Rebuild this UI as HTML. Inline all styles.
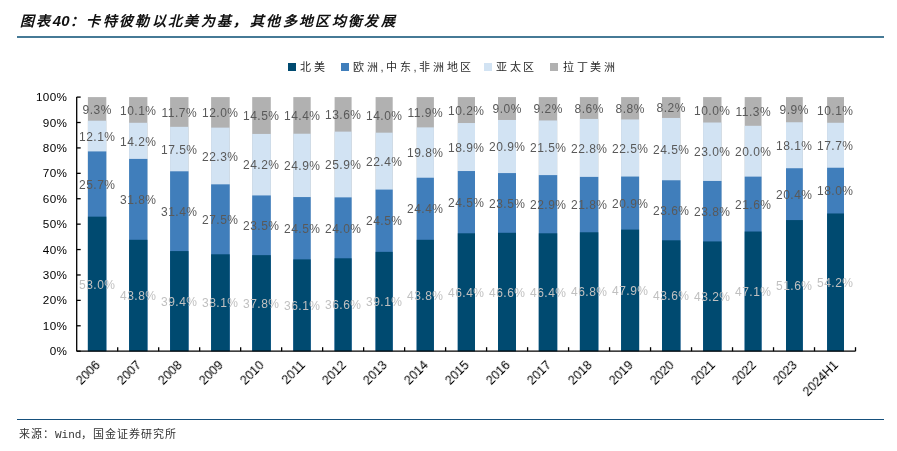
<!DOCTYPE html>
<html lang="zh-CN"><head><meta charset="utf-8"><style>
html,body{margin:0;padding:0;background:#fff;}
body{width:897px;height:451px;position:relative;overflow:hidden;font-family:"Liberation Sans",sans-serif;}
.title{position:absolute;left:20px;top:12px;font-size:14px;line-height:18px;font-weight:bold;font-style:italic;color:#111;white-space:nowrap;letter-spacing:2.35px;}
.tline{position:absolute;left:17px;top:36px;width:867px;height:2px;background:#467a96;}
.fline{position:absolute;left:17px;top:419px;width:867px;height:1.3px;background:#16507c;}
.foot{position:absolute;left:19px;top:427px;font-size:11px;line-height:14px;color:#333;white-space:nowrap;letter-spacing:1px;}
.mono{font-family:"Liberation Mono",monospace;letter-spacing:0;}
.leg{position:absolute;top:60px;font-size:11px;line-height:14px;color:#2a2a2a;white-space:nowrap;letter-spacing:2.7px;}
.sq{position:absolute;top:63px;width:8px;height:8px;}
.dl{position:absolute;width:60px;text-align:center;font-size:12px;line-height:14px;white-space:nowrap;letter-spacing:0.5px;text-indent:0.5px;}
.yl{position:absolute;left:0;width:67.4px;text-align:right;letter-spacing:0.4px;font-size:11.7px;line-height:14px;color:#000;}
.xl{position:absolute;width:80px;text-align:right;font-size:12.5px;line-height:14px;color:#000;transform-origin:100% 50%;transform:rotate(-45deg);}
svg{position:absolute;left:0;top:0;}
div{will-change:transform;}
</style></head><body>
<div class="title">图表<span style="font-size:15px;letter-spacing:0.3px">40</span>：卡特彼勒以北美为基，其他多地区均衡发展</div>
<div class="tline"></div>
<div class="sq" style="left:288px;background:#004a70"></div><div class="leg" style="left:299.5px">北美</div>
<div class="sq" style="left:341px;background:#407ebb"></div><div class="leg" style="left:352.5px">欧洲,中东,非洲地区</div>
<div class="sq" style="left:483.5px;background:#d2e3f3"></div><div class="leg" style="left:495.5px">亚太区</div>
<div class="sq" style="left:550.3px;background:#b1b1b1"></div><div class="leg" style="left:562.5px">拉丁美洲</div>
<svg width="897" height="451" viewBox="0 0 897 451">
<rect x="87.90" y="97.10" width="18.40" height="254.10" fill="#b1b1b1"/><rect x="87.90" y="120.71" width="18.40" height="230.49" fill="#d2e3f3"/><rect x="87.90" y="151.42" width="18.40" height="199.78" fill="#407ebb"/><rect x="87.90" y="216.66" width="18.40" height="134.54" fill="#004a70"/><rect x="129.10" y="97.10" width="18.30" height="254.10" fill="#b1b1b1"/><rect x="129.10" y="122.79" width="18.30" height="228.41" fill="#d2e3f3"/><rect x="129.10" y="158.91" width="18.30" height="192.29" fill="#407ebb"/><rect x="129.10" y="239.79" width="18.30" height="111.41" fill="#004a70"/><rect x="170.10" y="97.10" width="18.40" height="254.10" fill="#b1b1b1"/><rect x="170.10" y="126.83" width="18.40" height="224.37" fill="#d2e3f3"/><rect x="170.10" y="171.30" width="18.40" height="179.90" fill="#407ebb"/><rect x="170.10" y="251.08" width="18.40" height="100.12" fill="#004a70"/><rect x="211.10" y="97.10" width="18.60" height="254.10" fill="#b1b1b1"/><rect x="211.10" y="127.62" width="18.60" height="223.58" fill="#d2e3f3"/><rect x="211.10" y="184.34" width="18.60" height="166.86" fill="#407ebb"/><rect x="211.10" y="254.29" width="18.60" height="96.91" fill="#004a70"/><rect x="252.20" y="97.10" width="18.60" height="254.10" fill="#b1b1b1"/><rect x="252.20" y="133.94" width="18.60" height="217.26" fill="#d2e3f3"/><rect x="252.20" y="195.44" width="18.60" height="155.76" fill="#407ebb"/><rect x="252.20" y="255.15" width="18.60" height="96.05" fill="#004a70"/><rect x="293.30" y="97.10" width="17.40" height="254.10" fill="#b1b1b1"/><rect x="293.30" y="133.73" width="17.40" height="217.47" fill="#d2e3f3"/><rect x="293.30" y="197.06" width="17.40" height="154.14" fill="#407ebb"/><rect x="293.30" y="259.38" width="17.40" height="91.82" fill="#004a70"/><rect x="334.60" y="97.10" width="17.00" height="254.10" fill="#b1b1b1"/><rect x="334.60" y="131.62" width="17.00" height="219.58" fill="#d2e3f3"/><rect x="334.60" y="197.37" width="17.00" height="153.83" fill="#407ebb"/><rect x="334.60" y="258.29" width="17.00" height="92.91" fill="#004a70"/><rect x="375.60" y="97.10" width="17.10" height="254.10" fill="#b1b1b1"/><rect x="375.60" y="132.67" width="17.10" height="218.53" fill="#d2e3f3"/><rect x="375.60" y="189.59" width="17.10" height="161.61" fill="#407ebb"/><rect x="375.60" y="251.85" width="17.10" height="99.35" fill="#004a70"/><rect x="416.70" y="97.10" width="17.20" height="254.10" fill="#b1b1b1"/><rect x="416.70" y="127.37" width="17.20" height="223.83" fill="#d2e3f3"/><rect x="416.70" y="177.73" width="17.20" height="173.47" fill="#407ebb"/><rect x="416.70" y="239.79" width="17.20" height="111.41" fill="#004a70"/><rect x="457.80" y="97.10" width="17.20" height="254.10" fill="#b1b1b1"/><rect x="457.80" y="123.02" width="17.20" height="228.18" fill="#d2e3f3"/><rect x="457.80" y="171.04" width="17.20" height="180.16" fill="#407ebb"/><rect x="457.80" y="233.30" width="17.20" height="117.90" fill="#004a70"/><rect x="498.00" y="97.10" width="18.00" height="254.10" fill="#b1b1b1"/><rect x="498.00" y="119.97" width="18.00" height="231.23" fill="#d2e3f3"/><rect x="498.00" y="173.08" width="18.00" height="178.12" fill="#407ebb"/><rect x="498.00" y="232.79" width="18.00" height="118.41" fill="#004a70"/><rect x="538.80" y="97.10" width="18.40" height="254.10" fill="#b1b1b1"/><rect x="538.80" y="120.48" width="18.40" height="230.72" fill="#d2e3f3"/><rect x="538.80" y="175.11" width="18.40" height="176.09" fill="#407ebb"/><rect x="538.80" y="233.30" width="18.40" height="117.90" fill="#004a70"/><rect x="579.90" y="97.10" width="18.40" height="254.10" fill="#b1b1b1"/><rect x="579.90" y="118.95" width="18.40" height="232.25" fill="#d2e3f3"/><rect x="579.90" y="176.89" width="18.40" height="174.31" fill="#407ebb"/><rect x="579.90" y="232.28" width="18.40" height="118.92" fill="#004a70"/><rect x="621.10" y="97.10" width="18.00" height="254.10" fill="#b1b1b1"/><rect x="621.10" y="119.44" width="18.00" height="231.76" fill="#d2e3f3"/><rect x="621.10" y="176.55" width="18.00" height="174.65" fill="#407ebb"/><rect x="621.10" y="229.61" width="18.00" height="121.59" fill="#004a70"/><rect x="662.00" y="97.10" width="18.40" height="254.10" fill="#b1b1b1"/><rect x="662.00" y="117.96" width="18.40" height="233.24" fill="#d2e3f3"/><rect x="662.00" y="180.27" width="18.40" height="170.93" fill="#407ebb"/><rect x="662.00" y="240.30" width="18.40" height="110.90" fill="#004a70"/><rect x="703.10" y="97.10" width="18.40" height="254.10" fill="#b1b1b1"/><rect x="703.10" y="122.51" width="18.40" height="228.69" fill="#d2e3f3"/><rect x="703.10" y="180.95" width="18.40" height="170.25" fill="#407ebb"/><rect x="703.10" y="241.43" width="18.40" height="109.77" fill="#004a70"/><rect x="744.70" y="97.10" width="16.80" height="254.10" fill="#b1b1b1"/><rect x="744.70" y="125.81" width="16.80" height="225.39" fill="#d2e3f3"/><rect x="744.70" y="176.63" width="16.80" height="174.57" fill="#407ebb"/><rect x="744.70" y="231.52" width="16.80" height="119.68" fill="#004a70"/><rect x="786.00" y="97.10" width="16.80" height="254.10" fill="#b1b1b1"/><rect x="786.00" y="122.26" width="16.80" height="228.94" fill="#d2e3f3"/><rect x="786.00" y="168.25" width="16.80" height="182.95" fill="#407ebb"/><rect x="786.00" y="220.08" width="16.80" height="131.12" fill="#004a70"/><rect x="827.10" y="97.10" width="16.90" height="254.10" fill="#b1b1b1"/><rect x="827.10" y="122.76" width="16.90" height="228.44" fill="#d2e3f3"/><rect x="827.10" y="167.74" width="16.90" height="183.46" fill="#407ebb"/><rect x="827.10" y="213.48" width="16.90" height="137.72" fill="#004a70"/>
<line x1="76.7" y1="97.1" x2="76.7" y2="351.2" stroke="#000" stroke-width="1.3"/><line x1="76.7" y1="351.2" x2="855.5100000000001" y2="351.2" stroke="#000" stroke-width="1.3"/><line x1="76.7" y1="351.20" x2="80.7" y2="351.20" stroke="#000" stroke-width="1.3"/><line x1="76.7" y1="325.79" x2="80.7" y2="325.79" stroke="#000" stroke-width="1.3"/><line x1="76.7" y1="300.38" x2="80.7" y2="300.38" stroke="#000" stroke-width="1.3"/><line x1="76.7" y1="274.97" x2="80.7" y2="274.97" stroke="#000" stroke-width="1.3"/><line x1="76.7" y1="249.56" x2="80.7" y2="249.56" stroke="#000" stroke-width="1.3"/><line x1="76.7" y1="224.15" x2="80.7" y2="224.15" stroke="#000" stroke-width="1.3"/><line x1="76.7" y1="198.74" x2="80.7" y2="198.74" stroke="#000" stroke-width="1.3"/><line x1="76.7" y1="173.33" x2="80.7" y2="173.33" stroke="#000" stroke-width="1.3"/><line x1="76.7" y1="147.92" x2="80.7" y2="147.92" stroke="#000" stroke-width="1.3"/><line x1="76.7" y1="122.51" x2="80.7" y2="122.51" stroke="#000" stroke-width="1.3"/><line x1="76.7" y1="97.10" x2="80.7" y2="97.10" stroke="#000" stroke-width="1.3"/><line x1="117.69" y1="351.2" x2="117.69" y2="347.2" stroke="#000" stroke-width="1.3"/><line x1="158.68" y1="351.2" x2="158.68" y2="347.2" stroke="#000" stroke-width="1.3"/><line x1="199.67" y1="351.2" x2="199.67" y2="347.2" stroke="#000" stroke-width="1.3"/><line x1="240.66" y1="351.2" x2="240.66" y2="347.2" stroke="#000" stroke-width="1.3"/><line x1="281.65" y1="351.2" x2="281.65" y2="347.2" stroke="#000" stroke-width="1.3"/><line x1="322.64" y1="351.2" x2="322.64" y2="347.2" stroke="#000" stroke-width="1.3"/><line x1="363.63" y1="351.2" x2="363.63" y2="347.2" stroke="#000" stroke-width="1.3"/><line x1="404.62" y1="351.2" x2="404.62" y2="347.2" stroke="#000" stroke-width="1.3"/><line x1="445.61" y1="351.2" x2="445.61" y2="347.2" stroke="#000" stroke-width="1.3"/><line x1="486.60" y1="351.2" x2="486.60" y2="347.2" stroke="#000" stroke-width="1.3"/><line x1="527.59" y1="351.2" x2="527.59" y2="347.2" stroke="#000" stroke-width="1.3"/><line x1="568.58" y1="351.2" x2="568.58" y2="347.2" stroke="#000" stroke-width="1.3"/><line x1="609.57" y1="351.2" x2="609.57" y2="347.2" stroke="#000" stroke-width="1.3"/><line x1="650.56" y1="351.2" x2="650.56" y2="347.2" stroke="#000" stroke-width="1.3"/><line x1="691.55" y1="351.2" x2="691.55" y2="347.2" stroke="#000" stroke-width="1.3"/><line x1="732.54" y1="351.2" x2="732.54" y2="347.2" stroke="#000" stroke-width="1.3"/><line x1="773.53" y1="351.2" x2="773.53" y2="347.2" stroke="#000" stroke-width="1.3"/><line x1="814.52" y1="351.2" x2="814.52" y2="347.2" stroke="#000" stroke-width="1.3"/><line x1="855.51" y1="351.2" x2="855.51" y2="347.2" stroke="#000" stroke-width="1.3"/>
</svg>
<div class="yl" style="top:344.20px">0%</div><div class="yl" style="top:318.79px">10%</div><div class="yl" style="top:293.38px">20%</div><div class="yl" style="top:267.97px">30%</div><div class="yl" style="top:242.56px">40%</div><div class="yl" style="top:217.15px">50%</div><div class="yl" style="top:191.74px">60%</div><div class="yl" style="top:166.33px">70%</div><div class="yl" style="top:140.92px">80%</div><div class="yl" style="top:115.51px">90%</div><div class="yl" style="top:90.10px">100%</div>
<div class="dl" style="left:67.20px;top:277.63px;color:#c0c0c0">53.0%</div><div class="dl" style="left:67.20px;top:177.74px;color:#595959">25.7%</div><div class="dl" style="left:67.20px;top:129.77px;color:#595959">12.1%</div><div class="dl" style="left:67.20px;top:102.60px;color:#595959">9.3%</div><div class="dl" style="left:108.19px;top:289.20px;color:#c0c0c0">43.8%</div><div class="dl" style="left:108.19px;top:193.05px;color:#595959">31.8%</div><div class="dl" style="left:108.19px;top:134.55px;color:#595959">14.2%</div><div class="dl" style="left:108.19px;top:103.64px;color:#595959">10.1%</div><div class="dl" style="left:149.18px;top:294.84px;color:#c0c0c0">39.4%</div><div class="dl" style="left:149.18px;top:204.89px;color:#595959">31.4%</div><div class="dl" style="left:149.18px;top:142.76px;color:#595959">17.5%</div><div class="dl" style="left:149.18px;top:105.66px;color:#595959">11.7%</div><div class="dl" style="left:190.17px;top:296.45px;color:#c0c0c0">38.1%</div><div class="dl" style="left:190.17px;top:213.02px;color:#595959">27.5%</div><div class="dl" style="left:190.17px;top:149.68px;color:#595959">22.3%</div><div class="dl" style="left:190.17px;top:106.06px;color:#595959">12.0%</div><div class="dl" style="left:231.16px;top:296.88px;color:#c0c0c0">37.8%</div><div class="dl" style="left:231.16px;top:218.99px;color:#595959">23.5%</div><div class="dl" style="left:231.16px;top:158.39px;color:#595959">24.2%</div><div class="dl" style="left:231.16px;top:109.22px;color:#595959">14.5%</div><div class="dl" style="left:272.15px;top:298.99px;color:#c0c0c0">36.1%</div><div class="dl" style="left:272.15px;top:221.92px;color:#595959">24.5%</div><div class="dl" style="left:272.15px;top:159.09px;color:#595959">24.9%</div><div class="dl" style="left:272.15px;top:109.11px;color:#595959">14.4%</div><div class="dl" style="left:313.13px;top:298.45px;color:#c0c0c0">36.6%</div><div class="dl" style="left:313.13px;top:221.53px;color:#595959">24.0%</div><div class="dl" style="left:313.13px;top:158.20px;color:#595959">25.9%</div><div class="dl" style="left:313.13px;top:108.06px;color:#595959">13.6%</div><div class="dl" style="left:354.12px;top:295.22px;color:#c0c0c0">39.1%</div><div class="dl" style="left:354.12px;top:214.42px;color:#595959">24.5%</div><div class="dl" style="left:354.12px;top:154.83px;color:#595959">22.4%</div><div class="dl" style="left:354.12px;top:108.59px;color:#595959">14.0%</div><div class="dl" style="left:395.12px;top:289.20px;color:#c0c0c0">43.8%</div><div class="dl" style="left:395.12px;top:202.46px;color:#595959">24.4%</div><div class="dl" style="left:395.12px;top:146.25px;color:#595959">19.8%</div><div class="dl" style="left:395.12px;top:105.93px;color:#595959">11.9%</div><div class="dl" style="left:436.11px;top:285.95px;color:#c0c0c0">46.4%</div><div class="dl" style="left:436.11px;top:195.87px;color:#595959">24.5%</div><div class="dl" style="left:436.11px;top:140.73px;color:#595959">18.9%</div><div class="dl" style="left:436.11px;top:103.76px;color:#595959">10.2%</div><div class="dl" style="left:477.10px;top:285.69px;color:#c0c0c0">46.6%</div><div class="dl" style="left:477.10px;top:196.63px;color:#595959">23.5%</div><div class="dl" style="left:477.10px;top:140.22px;color:#595959">20.9%</div><div class="dl" style="left:477.10px;top:102.23px;color:#595959">9.0%</div><div class="dl" style="left:518.09px;top:285.95px;color:#c0c0c0">46.4%</div><div class="dl" style="left:518.09px;top:197.90px;color:#595959">22.9%</div><div class="dl" style="left:518.09px;top:141.49px;color:#595959">21.5%</div><div class="dl" style="left:518.09px;top:102.49px;color:#595959">9.2%</div><div class="dl" style="left:559.08px;top:285.44px;color:#c0c0c0">46.8%</div><div class="dl" style="left:559.08px;top:198.28px;color:#595959">21.8%</div><div class="dl" style="left:559.08px;top:141.62px;color:#595959">22.8%</div><div class="dl" style="left:559.08px;top:101.73px;color:#595959">8.6%</div><div class="dl" style="left:600.07px;top:284.10px;color:#c0c0c0">47.9%</div><div class="dl" style="left:600.07px;top:196.78px;color:#595959">20.9%</div><div class="dl" style="left:600.07px;top:141.70px;color:#595959">22.5%</div><div class="dl" style="left:600.07px;top:101.97px;color:#595959">8.8%</div><div class="dl" style="left:641.06px;top:289.45px;color:#c0c0c0">43.6%</div><div class="dl" style="left:641.06px;top:203.99px;color:#595959">23.6%</div><div class="dl" style="left:641.06px;top:142.82px;color:#595959">24.5%</div><div class="dl" style="left:641.06px;top:101.23px;color:#595959">8.2%</div><div class="dl" style="left:682.05px;top:290.01px;color:#c0c0c0">43.2%</div><div class="dl" style="left:682.05px;top:204.89px;color:#595959">23.8%</div><div class="dl" style="left:682.05px;top:145.43px;color:#595959">23.0%</div><div class="dl" style="left:682.05px;top:103.50px;color:#595959">10.0%</div><div class="dl" style="left:723.04px;top:285.06px;color:#c0c0c0">47.1%</div><div class="dl" style="left:723.04px;top:197.78px;color:#595959">21.6%</div><div class="dl" style="left:723.04px;top:144.92px;color:#595959">20.0%</div><div class="dl" style="left:723.04px;top:105.16px;color:#595959">11.3%</div><div class="dl" style="left:764.03px;top:279.34px;color:#c0c0c0">51.6%</div><div class="dl" style="left:764.03px;top:187.87px;color:#595959">20.4%</div><div class="dl" style="left:764.03px;top:138.95px;color:#595959">18.1%</div><div class="dl" style="left:764.03px;top:103.38px;color:#595959">9.9%</div><div class="dl" style="left:805.02px;top:276.04px;color:#c0c0c0">54.2%</div><div class="dl" style="left:805.02px;top:184.31px;color:#595959">18.0%</div><div class="dl" style="left:805.02px;top:138.95px;color:#595959">17.7%</div><div class="dl" style="left:805.02px;top:103.63px;color:#595959">10.1%</div>
<div class="xl" style="left:17.70px;top:355.70px">2006</div><div class="xl" style="left:58.69px;top:355.70px">2007</div><div class="xl" style="left:99.68px;top:355.70px">2008</div><div class="xl" style="left:140.67px;top:355.70px">2009</div><div class="xl" style="left:181.66px;top:355.70px">2010</div><div class="xl" style="left:222.65px;top:355.70px">2011</div><div class="xl" style="left:263.63px;top:355.70px">2012</div><div class="xl" style="left:304.62px;top:355.70px">2013</div><div class="xl" style="left:345.62px;top:355.70px">2014</div><div class="xl" style="left:386.61px;top:355.70px">2015</div><div class="xl" style="left:427.60px;top:355.70px">2016</div><div class="xl" style="left:468.59px;top:355.70px">2017</div><div class="xl" style="left:509.58px;top:355.70px">2018</div><div class="xl" style="left:550.57px;top:355.70px">2019</div><div class="xl" style="left:591.56px;top:355.70px">2020</div><div class="xl" style="left:632.55px;top:355.70px">2021</div><div class="xl" style="left:673.54px;top:355.70px">2022</div><div class="xl" style="left:714.53px;top:355.70px">2023</div><div class="xl" style="left:755.52px;top:355.70px">2024H1</div>
<div class="fline"></div>
<div class="foot">来源：<span class="mono">Wind</span>，国金证券研究所</div>
</body></html>
